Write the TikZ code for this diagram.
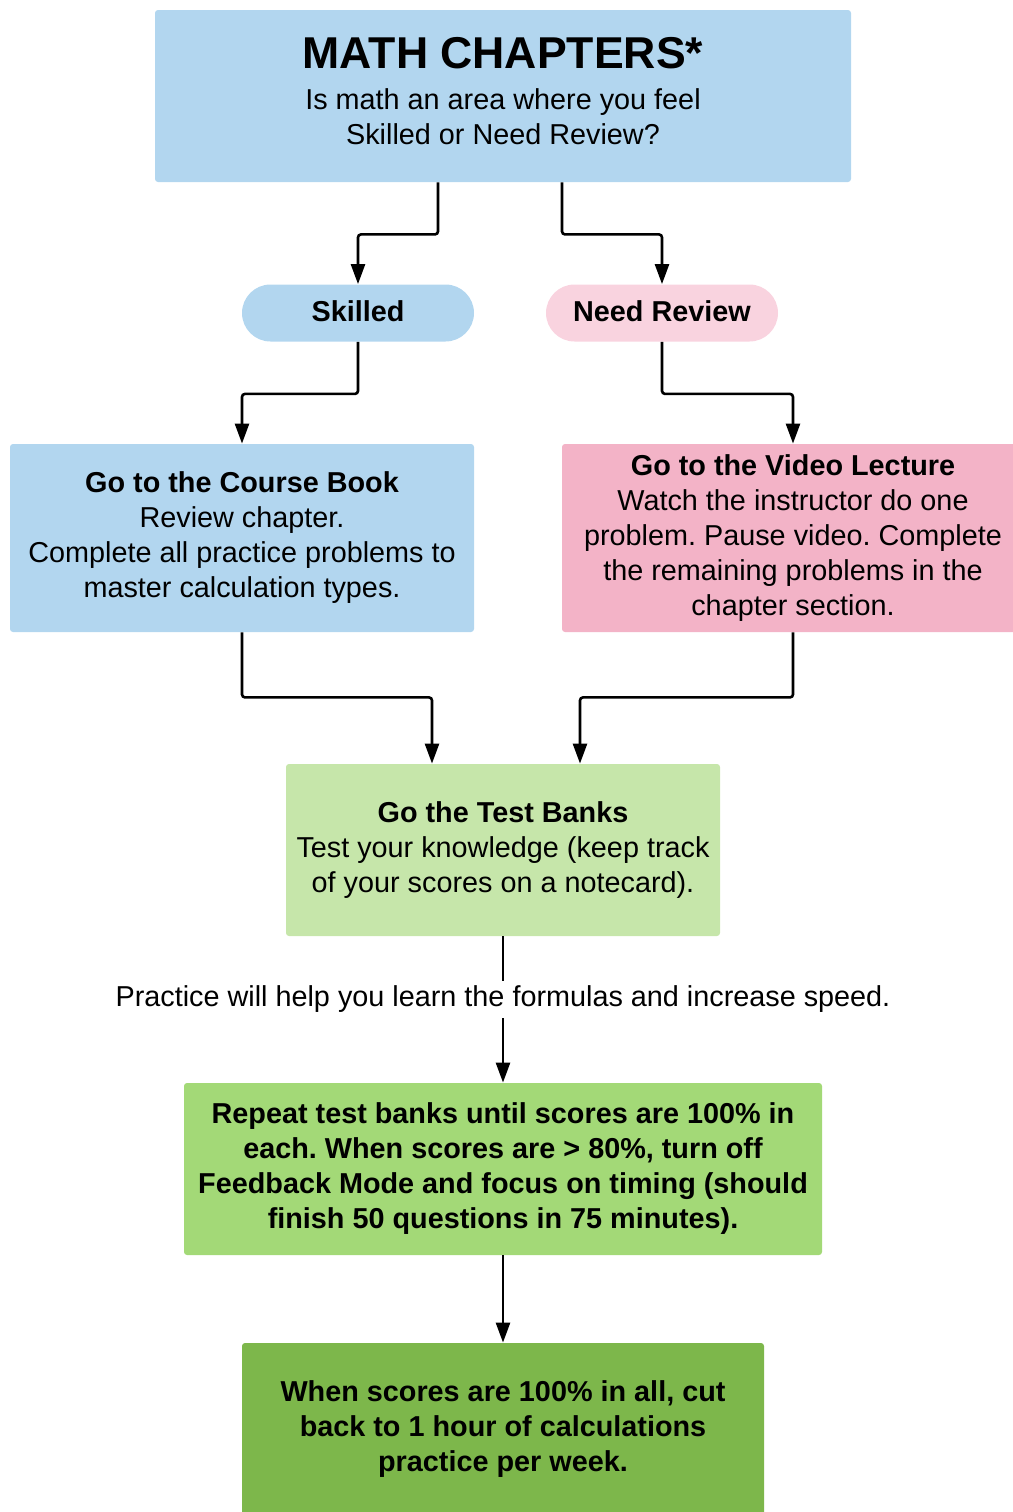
\documentclass[tikz,border=0pt]{standalone}
\usepackage{fontspec}
\setmainfont{Liberation Sans}
\usetikzlibrary{arrows.meta}
\definecolor{skyblue}{HTML}{B2D6EF}
\definecolor{pillpink}{HTML}{F9D3DF}
\definecolor{boxpink}{HTML}{F3B3C7}
\definecolor{palegreen}{HTML}{C6E6AA}
\definecolor{midgreen}{HTML}{A3D977}
\definecolor{darkgreen}{HTML}{7DB74B}
\frenchspacing

\begin{document}
\begin{tikzpicture}[x=0.5pt,y=-0.5pt]
      \useasboundingbox (0,0) rectangle (1013,1512);
      \tikzset{B/.style = {rectangle, rounded corners=1.5pt, inner sep=0pt, align=center, text=black,
                           font=\fontsize{14.4}{17.5}\selectfont}}
      \tikzset{P/.style = {B, rounded corners=14.25pt, minimum width=116pt, minimum height=28.5pt}}
      \tikzset{E/.style = {draw, line width=1.3pt, rounded corners=1.5pt, -{Triangle[length=10pt,width=7pt]}}}
      \node[B,fill=skyblue,minimum width=348pt,minimum height=86pt](top) at (503,96)
        {{\fontsize{22.3}{21}\selectfont\bfseries MATH CHAPTERS*}\\[3pt]
         Is math an area where you feel\\ Skilled or Need Review?\rule[-5pt]{0pt}{0pt}};
      \node[P,fill=skyblue](sk) at (358,313) {\bfseries Skilled\rule[-2pt]{0pt}{0pt}};
      \node[P,fill=pillpink](nr) at (662,313) {\bfseries Need Review\rule[-2pt]{0pt}{0pt}};
      \node[B,fill=skyblue,minimum width=232pt,minimum height=94pt](cb) at (242,538)
        {\bfseries Go to the Course Book\\ Review chapter.\\ Complete all practice problems to\\ master calculation types.};
      \node[B,fill=boxpink,minimum width=231pt,minimum height=94pt](vl) at (793,538)
        {\bfseries Go to the Video Lecture\\ Watch the instructor do one\\ problem. Pause video. Complete\\ the remaining problems in the\\ chapter section.};
      \node[B,fill=palegreen,minimum width=217pt,minimum height=86pt](tb) at (503,850)
        {\bfseries Go the Test Banks\\ Test your knowledge (keep track\\ of your scores on a notecard).};
      \node[B,fill=midgreen,minimum width=319pt,minimum height=86pt,font=\fontsize{14.4}{17.5}\selectfont\bfseries](rp) at (503,1169)
        {Repeat test banks until scores are 100\% in\\ each. When scores are > 80\%, turn off\\ Feedback Mode and focus on timing (should\\ finish 50 questions in 75 minutes).};
      \node[B,fill=darkgreen,minimum width=261pt,minimum height=86pt,font=\fontsize{14.4}{17.5}\selectfont\bfseries](fin) at (503,1429)
        {When scores are 100\% in all, cut\\ back to 1 hour of calculations\\ practice per week.};
      \draw[E]([xshift=-32.5pt]top.south) -- ++(0,52) -| (sk.north);
      \draw[E]([xshift=29.5pt]top.south) -- ++(0,52) -| (nr.north);
      \draw[E](sk.south) -- ++(0,52) -| (cb.north);
      \draw[E](nr.south) -- ++(0,52) -| (vl.north);
      \draw[E](cb.south) -- ++(0,65) -| ([xshift=-35.5pt]tb.north);
      \draw[E](vl.south) -- ++(0,65) -| ([xshift=38.5pt]tb.north);
      \draw[E](tb.south) -- node[B,pos=0.43,fill=white,inner sep=2.5pt,rounded corners=0pt](prac)
        {Practice will help you learn the formulas and increase speed.} (rp.north);
      \draw[E](rp.south) -- (fin.north);
\end{tikzpicture}
\end{document}
